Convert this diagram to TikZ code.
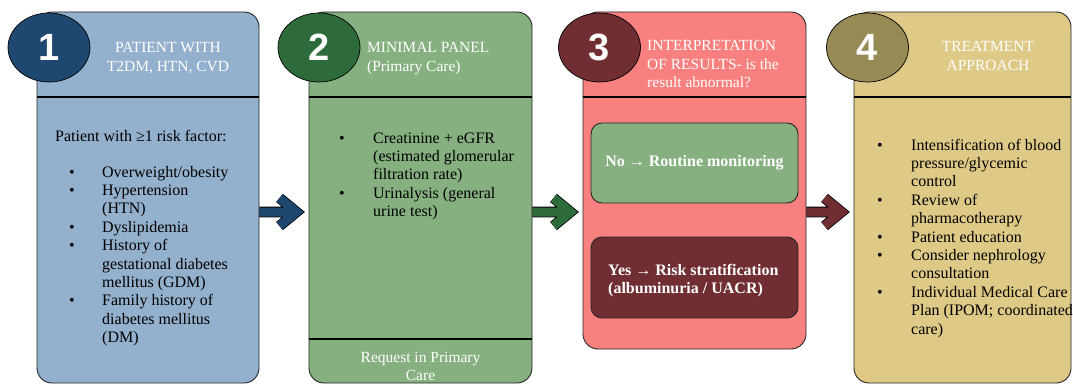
\documentclass[tikz,border=0pt]{standalone}
\usepackage{fontspec}
\setmainfont{Liberation Serif}
\newfontfamily\numfam{Liberation Sans}
\usetikzlibrary{shapes.geometric, calc}

\definecolor{blueL}{RGB}{147,176,205}
\definecolor{blueD}{RGB}{31,72,112}
\definecolor{greenL}{RGB}{134,176,128}
\definecolor{greenD}{RGB}{46,107,58}
\definecolor{redL}{RGB}{248,128,127}
\definecolor{maroon}{RGB}{112,46,51}
\definecolor{sandL}{RGB}{222,202,134}
\definecolor{olive}{RGB}{150,138,85}

\newcommand{\bodyfont}{\fontsize{16}{18.4}\selectfont}
\newcommand{\headfont}{\fontsize{15.5}{18.5}\selectfont}

\begin{document}
\begin{tikzpicture}[x=1pt, y=-1pt,
    panel/.style={draw=black!85, line width=0.9pt, rounded corners=15pt, inner sep=0pt},
    subbox/.style={draw=black!85, line width=0.9pt, rounded corners=11pt, minimum width=207pt, inner sep=0pt},
    badge/.style={ellipse, draw=black, line width=0.7pt, minimum width=82pt, minimum height=69pt,
        text=white, font=\numfam\bfseries\fontsize{38}{40}\selectfont},
    divider/.style={line width=1.5pt, black},
    headtxt/.style={text=white, font=\headfont, inner sep=0pt, anchor=base},
    bodytxt/.style={font=\bodyfont, inner sep=0pt, anchor=base west},
    flowarr/.style={line width=9pt, draw=#1, preaction={draw=black, line width=10.6pt}}]

    \useasboundingbox (0,0) rectangle (1073,385);

    % Panels
    \node[panel, fill=blueL, minimum width=222pt, minimum height=371pt] (p1) at (148,197.5) {};
    \node[panel, fill=greenL, minimum width=223pt, minimum height=371pt] (p2) at (420.5,197.5) {};
    \node[panel, fill=redL, minimum width=223pt, minimum height=337pt] (p3) at (694.5,180.5) {};
    \node[panel, fill=sandL, minimum width=217pt, minimum height=371pt] (p4) at (962.5,197.5) {};

    % Header and footer lines
    \coordinate (hd) at (0,97);
    \coordinate (ft) at (0,339);
    \foreach \p in {p1, p2, p3, p4}
        \draw[divider] (\p.west |- hd) -- (\p.east |- hd);
    \draw[divider] (p2.west |- ft) -- (p2.east |- ft);

    % Badges
    \node[badge, fill=blueD] (c1) at (49,47.5) {1};
    \node[badge, fill=greenD] (c2) at (319,47.5) {2};
    \node[badge, fill=maroon] (c3) at (599.5,47.5) {3};
    \node[badge, fill=olive] (c4) at (867.5,47.5) {4};

    % Headers
    \node[headtxt] (h1) at (168,53) {\begin{tabular}[t]{@{}c@{}}PATIENT WITH\\ T2DM, HTN, CVD\end{tabular}};
    \node[headtxt, anchor=base west] (h2) at (367,53) {\begin{tabular}[t]{@{}l@{}}MINIMAL PANEL\\ (Primary Care)\end{tabular}};
    \node[headtxt, anchor=base west] (h3) at (647,51) {\begin{tabular}[t]{@{}l@{}}INTERPRETATION\\ OF RESULTS- is the\\ result abnormal?\end{tabular}};
    \node[headtxt] (h4) at (988,52) {\begin{tabular}[t]{@{}c@{}}TREATMENT\\ APPROACH\end{tabular}};

    % Panel 1
    \node[bodytxt] (t1) at (55,142) {Patient with ≥1 risk factor:};
    \node[bodytxt] (l1) at (69,177) {\begin{tabular}[t]{@{}p{33pt}@{}l@{}}
        \textbullet & Overweight/obesity\\
        \textbullet & Hypertension\\
                    & (HTN)\\
        \textbullet & Dyslipidemia\\
        \textbullet & History of\\
                    & gestational diabetes\\
                    & mellitus (GDM)\\
        \textbullet & Family history of\\
                    & diabetes mellitus\\
                    & (DM)
    \end{tabular}};

    % Panel 2
    \node[bodytxt] (l2) at (339,143) {\begin{tabular}[t]{@{}p{34pt}@{}l@{}}
        \textbullet & Creatinine + eGFR\\
                    & (estimated glomerular\\
                    & filtration rate)\\
        \textbullet & Urinalysis (general\\
                    & urine test)
    \end{tabular}};
    \node[headtxt] (f2) at (420.5,362) {\begin{tabular}[t]{@{}c@{}}Request in Primary\\ Care\end{tabular}};

    % Panel 3
    \node[subbox, fill=greenL, minimum height=80pt] (no) at (694.5,163) {};
    \node[subbox, fill=maroon, minimum height=81pt] (yes) at (694.5,277.5) {};
    \node[text=white, font=\bodyfont\bfseries, inner sep=0pt] at (no.center) {No → Routine monitoring};
    \node[bodytxt, text=white, font=\bodyfont\bfseries] at (608,275) {\begin{tabular}[t]{@{}l@{}}Yes → Risk stratification\\ (albuminuria / UACR)\end{tabular}};

    % Panel 4
    \node[bodytxt] (l4) at (877,150) {\begin{tabular}[t]{@{}p{34pt}@{}l@{}}
        \textbullet & Intensification of blood\\
                    & pressure/glycemic\\
                    & control\\
        \textbullet & Review of\\
                    & pharmacotherapy\\
        \textbullet & Patient education\\
        \textbullet & Consider nephrology\\
                    & consultation\\
        \textbullet & Individual Medical Care\\
                    & Plan (IPOM; coordinated\\
                    & care)
    \end{tabular}};

    % Arrows
    \coordinate (mid) at (0,212);
    \draw[flowarr=blueD] (p1.east |- mid) -- ($(p2.west |- mid)+(-14,0)$)
        ($(p2.west |- mid)+(-29,-14)$) -- ($(p2.west |- mid)+(-12,0)$) -- ($(p2.west |- mid)+(-29,14)$);
    \draw[flowarr=greenD] (p2.east |- mid) -- ($(p3.west |- mid)+(-14,0)$)
        ($(p3.west |- mid)+(-29,-14)$) -- ($(p3.west |- mid)+(-12,0)$) -- ($(p3.west |- mid)+(-29,14)$);
    \draw[flowarr=maroon] (p3.east |- mid) -- ($(p4.west |- mid)+(-14,0)$)
        ($(p4.west |- mid)+(-29,-14)$) -- ($(p4.west |- mid)+(-12,0)$) -- ($(p4.west |- mid)+(-29,14)$);
\end{tikzpicture}
\end{document}
